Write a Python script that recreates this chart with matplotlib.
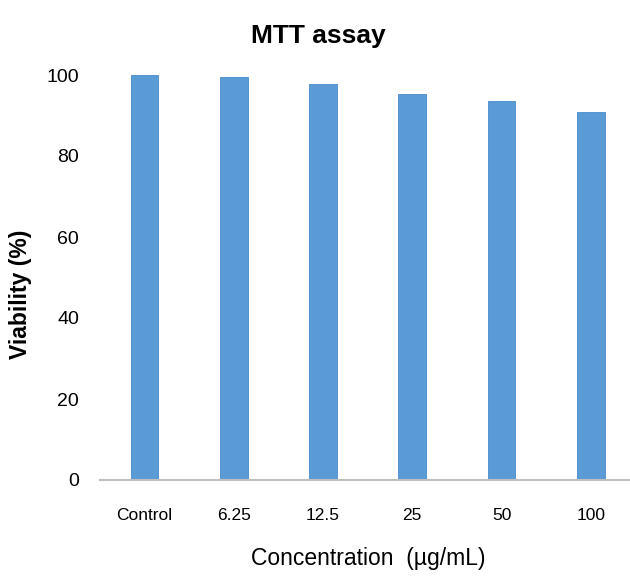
import matplotlib.pyplot as plt

categories = ["Control", "6.25", "12.5", "25", "50", "100"]
viability = [100.0, 99.4, 97.9, 95.4, 93.7, 90.8]

FONT = ["Liberation Sans", "DejaVu Sans"]
BAR_COLOR = "#5B9BD5"


def main():
    fig = plt.figure(figsize=(6.3, 5.76), dpi=100)
    # axes: left edge at x=100px, bottom at y=480px, top at y=75px
    ax = fig.add_axes([100 / 630, (576 - 480) / 576, 530 / 630, 405 / 576])

    x = range(len(categories))
    ax.bar(x, viability, width=0.31, color=BAR_COLOR, edgecolor="#4A8BCB",
           linewidth=0.6, clip_on=False, zorder=2)

    ax.set_xlim(-0.5, 5.44)
    ax.set_ylim(0, 100)
    ax.set_yticks([0, 20, 40, 60, 80, 100])
    ax.set_xticks(list(x))
    ax.set_xticklabels(categories, family=FONT, fontsize=12.5)
    for lab in ax.get_yticklabels():
        lab.set_family(FONT)
        lab.set_fontsize(14)
    ax.tick_params(axis="both", length=0)
    ax.tick_params(axis="x", pad=20)
    ax.tick_params(axis="y", pad=15)

    for side in ["top", "right", "left"]:
        ax.spines[side].set_visible(False)
    ax.spines["bottom"].set_color("#BFBFBF")
    ax.spines["bottom"].set_linewidth(1.5)

    ax.set_xlabel("Concentration  (\u00b5g/mL)", family=FONT, fontsize=16.5)
    ax.xaxis.set_label_coords((368 - 100) / 530, -(558 - 480) / 405)
    ax.xaxis.label.set_va("center")
    ax.set_ylabel("Viability (%)", family=FONT, fontweight="heavy", fontsize=16.5)
    ax.yaxis.set_label_coords(-(100 - 21) / 530, (480 - 294) / 405)
    ax.yaxis.label.set_va("center")
    fig.text(318 / 630, 1 - 36 / 576, "MTT assay", family=FONT, fontweight="bold",
             fontsize=19, ha="center", va="center")

    fig.savefig("out.png", dpi=100)


if __name__ == "__main__":
    main()
